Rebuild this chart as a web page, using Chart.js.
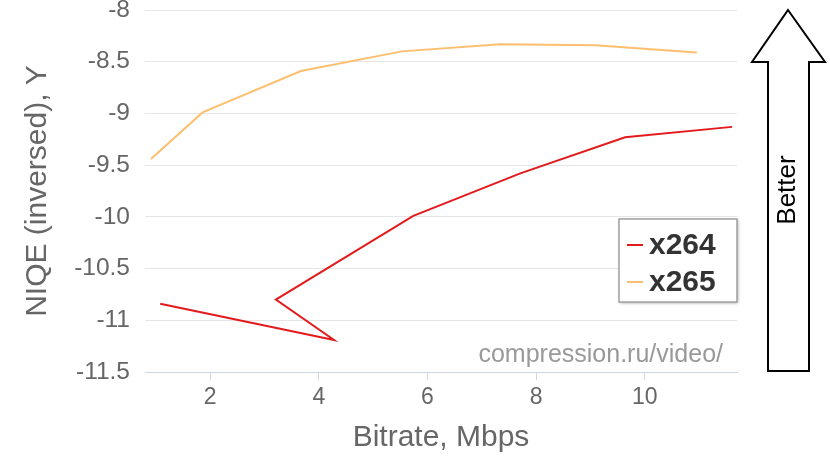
<!DOCTYPE html>
<html>
<head>
<meta charset="utf-8">
<script src="https://cdn.jsdelivr.net/npm/chart.js@4/dist/chart.umd.min.js"></script>
<style>
  body { margin: 0; background: #fff; }
  #wrap { width: 830px; height: 467px; }
</style>
</head>
<body>
<div id="wrap"><canvas id="chart"></canvas></div>
<script>
const FONT = '"Liberation Sans", Arial, sans-serif';

// bitrate (Mbps) and NIQE (inversed)
const x264Bitrate = [1.08, 4.28, 3.21, 5.74, 7.71, 9.64, 11.61];
const x264Niqe = [-10.84, -11.19, -10.80, -9.99, -9.58, -9.23, -9.13];
const x265Bitrate = [0.91, 1.86, 3.67, 5.53, 7.34, 9.09, 10.96];
const x265Niqe = [-9.44, -8.99, -8.59, -8.40, -8.33, -8.34, -8.41];

const xTicks = [2, 4, 6, 8, 10];
const seriesNames = ['x264', 'x265'];
const seriesColors = ['#e31a1c', '#fdbf6f'];

const toPoints = (xs, ys) => xs.map((x, i) => ({ x: x, y: ys[i] }));

// legend box inside the plot, drawn by hand
const boxLegend = {
  id: 'boxLegend',
  afterDraw(chart) {
    const { ctx, chartArea } = chart;
    const w = 118, h = 83;
    const x = chartArea.right - w, y = chartArea.top + 209;
    ctx.save();
    ctx.shadowColor = 'rgba(0,0,0,0.35)';
    ctx.shadowBlur = 3;
    ctx.shadowOffsetX = 1;
    ctx.shadowOffsetY = 1;
    ctx.fillStyle = '#fff';
    ctx.fillRect(x, y, w, h);
    ctx.shadowColor = 'transparent';
    ctx.strokeStyle = '#a0a0a0';
    ctx.lineWidth = 1.5;
    ctx.strokeRect(x, y, w, h);
    ctx.font = 'bold 30px ' + FONT;
    ctx.textBaseline = 'middle';
    chart.data.datasets.forEach((ds, i) => {
      const cy = y + 26 + i * 37;
      ctx.strokeStyle = ds.borderColor;
      ctx.lineWidth = 2;
      ctx.beginPath();
      ctx.moveTo(x + 8, cy);
      ctx.lineTo(x + 24, cy);
      ctx.stroke();
      ctx.fillStyle = '#333';
      ctx.fillText(ds.label, x + 30, cy + 1);
    });
    ctx.restore();
  }
};

// watermark + "Better" arrow on the right
const extras = {
  id: 'extras',
  afterDraw(chart) {
    const { ctx, chartArea } = chart;
    ctx.save();
    ctx.font = '25px ' + FONT;
    ctx.fillStyle = '#999';
    ctx.textAlign = 'right';
    ctx.textBaseline = 'alphabetic';
    ctx.fillText('compression.ru/video/', chartArea.right - 14, chartArea.bottom - 10);

    const cx = 788, top = 10, neck = 62, bottom = 371;
    ctx.beginPath();
    ctx.moveTo(cx, top);
    ctx.lineTo(cx + 37, neck);
    ctx.lineTo(cx + 21, neck);
    ctx.lineTo(cx + 21, bottom);
    ctx.lineTo(cx - 20, bottom);
    ctx.lineTo(cx - 20, neck);
    ctx.lineTo(cx - 36, neck);
    ctx.closePath();
    ctx.fillStyle = '#fff';
    ctx.fill();
    ctx.strokeStyle = '#000';
    ctx.lineWidth = 2;
    ctx.stroke();

    ctx.translate(cx, 190);
    ctx.rotate(-Math.PI / 2);
    ctx.font = '26px ' + FONT;
    ctx.fillStyle = '#000';
    ctx.textAlign = 'center';
    ctx.textBaseline = 'middle';
    ctx.fillText('Better', 0, 0);
    ctx.restore();
  }
};

new Chart(document.getElementById('chart'), {
  type: 'line',
  data: {
    datasets: [
      {
        label: seriesNames[0],
        data: toPoints(x264Bitrate, x264Niqe),
        borderColor: seriesColors[0],
        backgroundColor: seriesColors[0],
        borderWidth: 2,
        pointRadius: 0,
        tension: 0
      },
      {
        label: seriesNames[1],
        data: toPoints(x265Bitrate, x265Niqe),
        borderColor: seriesColors[1],
        backgroundColor: seriesColors[1],
        borderWidth: 2,
        pointRadius: 0,
        tension: 0
      }
    ]
  },
  options: {
    responsive: true,
    maintainAspectRatio: false,
    animation: false,
    layout: { padding: { top: 10, right: 93, bottom: 0, left: 0 } },
    plugins: {
      legend: { display: false },
      tooltip: { enabled: false }
    },
    scales: {
      x: {
        type: 'linear',
        min: 0.8,
        max: 11.7,
        afterBuildTicks: s => { s.ticks = xTicks.map(v => ({ value: v })); },
        afterFit: s => { s.height = 95; s.paddingLeft = 0; s.paddingRight = 0; },
        grid: { drawOnChartArea: false, drawTicks: true, tickLength: 8, color: '#ccd6eb' },
        border: { display: true, color: '#ccd6eb', width: 1 },
        ticks: { color: '#666', font: { family: FONT, size: 23 }, padding: 4, maxRotation: 0 },
        title: {
          display: true,
          text: 'Bitrate, Mbps',
          color: '#666',
          font: { family: FONT, size: 30 },
          padding: { top: 0, bottom: 11 }
        }
      },
      y: {
        min: -11.5,
        max: -8,
        afterFit: s => { s.width = 145; s.paddingTop = 0; s.paddingBottom = 0; },
        grid: { color: '#e6e6e6', drawTicks: false },
        border: { display: false },
        ticks: {
          stepSize: 0.5,
          color: '#666',
          font: { family: FONT, size: 24.5 },
          padding: 15,
          callback: v => String(+v.toFixed(1))
        },
        title: {
          display: true,
          text: 'NIQE (inversed), Y',
          color: '#666',
          font: { family: FONT, size: 30 },
          padding: { top: 20, bottom: 0 }
        }
      }
    }
  },
  plugins: [boxLegend, extras]
});
</script>
</body>
</html>
